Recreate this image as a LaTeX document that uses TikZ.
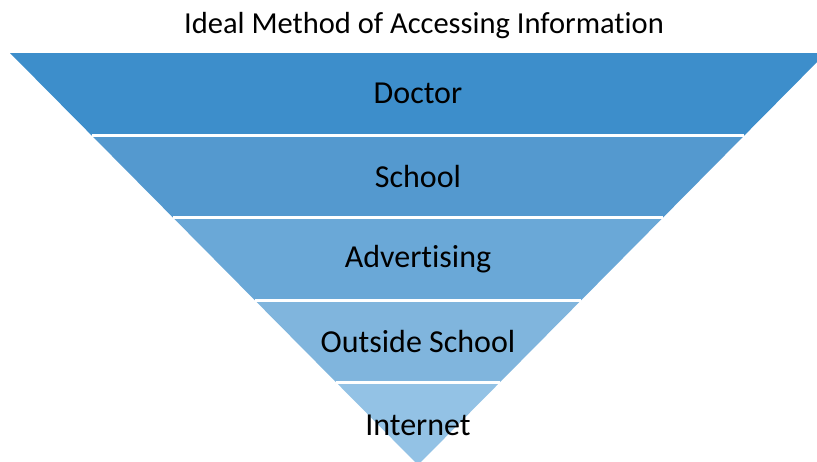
\documentclass[tikz,border=0pt]{standalone}
\usepackage{fontspec}
\setmainfont{Carlito}[Ligatures=NoCommon]
\usepackage{tikz}
\usetikzlibrary{calc}
\definecolor{bandA}{HTML}{3D8ECB}
\definecolor{bandB}{HTML}{5499CF}
\definecolor{bandC}{HTML}{6AA8D7}
\definecolor{bandD}{HTML}{80B5DD}
\definecolor{bandE}{HTML}{93C2E5}

\begin{document}
\begin{tikzpicture}[x=1pt, y=-1pt,
        gap/.style={white, line width=3pt},
        level/.style={font=\fontsize{32}{38}\selectfont, text=black}]
        \useasboundingbox (0, 0) rectangle (817, 461);
        \coordinate (L) at (10, 53);
        \coordinate (R) at (826, 53);
        \coordinate (P) at (418, 465);
        \fill[bandA] (L) -- (R) -- ($(R)!1/5!(P)$) -- ($(L)!1/5!(P)$) -- cycle;
        \fill[bandB] ($(L)!1/5!(P)$) -- ($(R)!1/5!(P)$) -- ($(R)!2/5!(P)$) -- ($(L)!2/5!(P)$) -- cycle;
        \fill[bandC] ($(L)!2/5!(P)$) -- ($(R)!2/5!(P)$) -- ($(R)!3/5!(P)$) -- ($(L)!3/5!(P)$) -- cycle;
        \fill[bandD] ($(L)!3/5!(P)$) -- ($(R)!3/5!(P)$) -- ($(R)!4/5!(P)$) -- ($(L)!4/5!(P)$) -- cycle;
        \fill[bandE] ($(L)!4/5!(P)$) -- ($(R)!4/5!(P)$) -- (P) -- cycle;
        \draw[gap] ($(L)!1/5!(P)$) -- ($(R)!1/5!(P)$);
        \draw[gap] ($(L)!2/5!(P)$) -- ($(R)!2/5!(P)$);
        \draw[gap] ($(L)!3/5!(P)$) -- ($(R)!3/5!(P)$);
        \draw[gap] ($(L)!4/5!(P)$) -- ($(R)!4/5!(P)$);
        \node[font=\fontsize{30.5}{36}\selectfont] (title) at (424, 26) {Ideal Method of Accessing Information};
        \node[level] (doctor) at (418, 93) {Doctor};
        \node[level] (school) at (418, 176) {School};
        \node[level] (advertising) at (418, 259) {Advertising};
        \node[level] (outside) at (418, 342) {Outside School};
        \node[level] (internet) at (418, 425) {Internet};
    \end{tikzpicture}
\end{document}
